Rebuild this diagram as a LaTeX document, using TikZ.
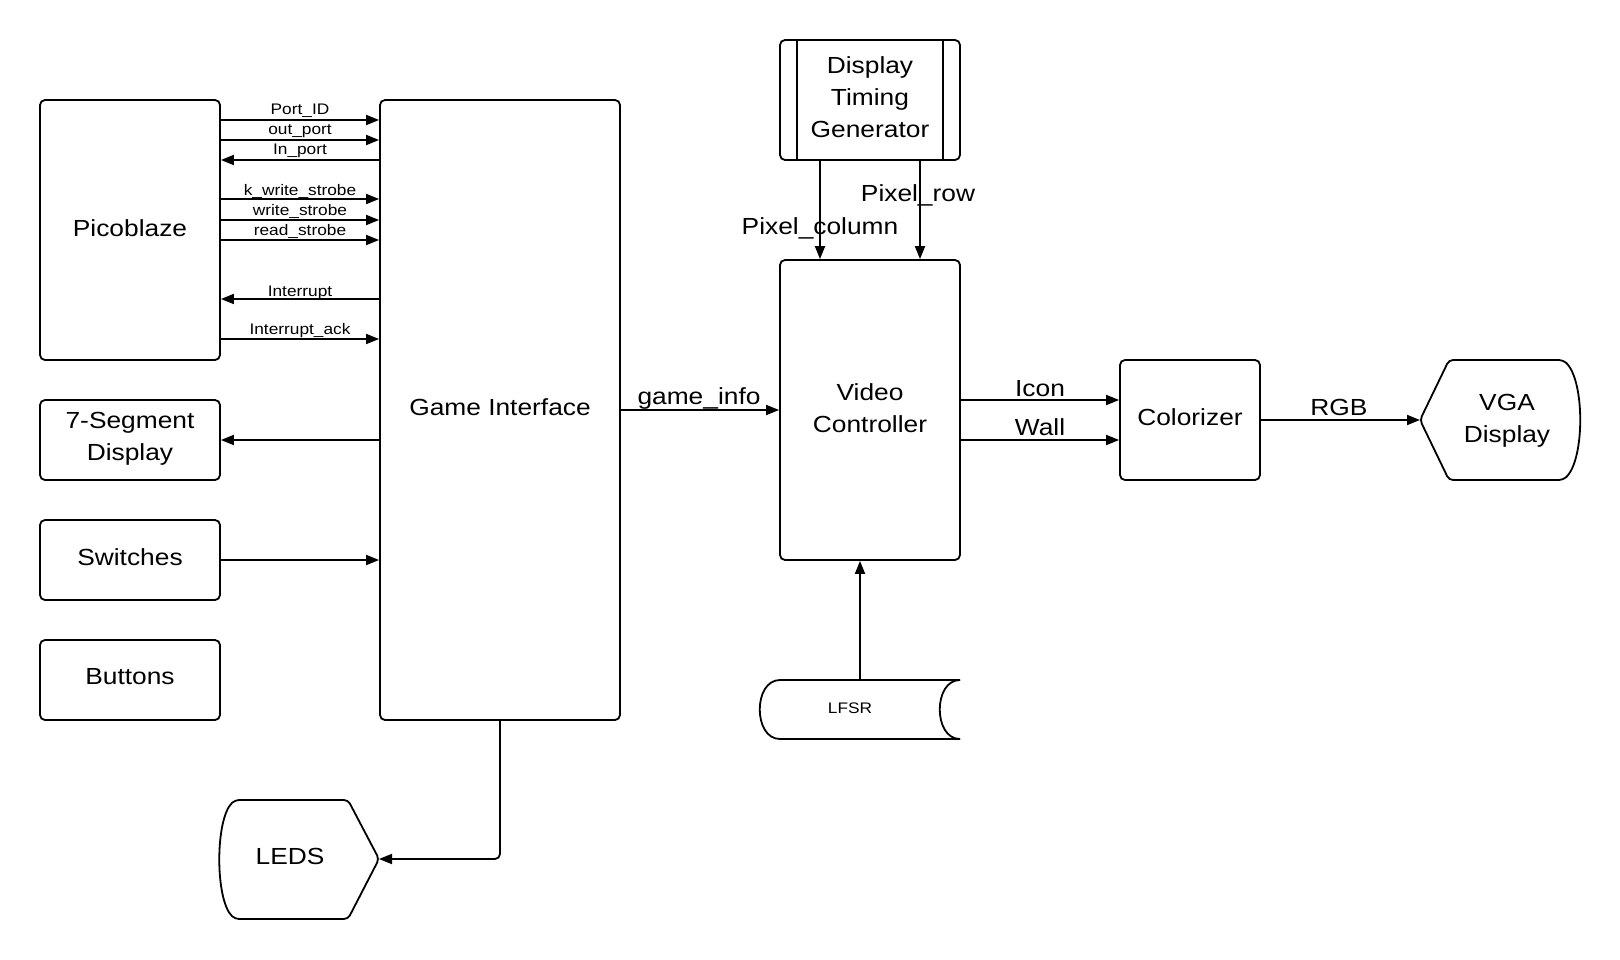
\documentclass[tikz,border=0pt]{standalone}
\usepackage{fontspec}
\setmainfont{Liberation Sans}[FakeStretch=1.13]
\usetikzlibrary{arrows.meta,calc}
\begin{document}
\begin{tikzpicture}[x=1pt,y=-1pt,
  box/.style={draw,line width=1.8pt,rounded corners=5pt,inner sep=0pt},
  txt/.style={align=center,font=\fontsize{23.3}{32}\selectfont,inner sep=0pt},
  sig/.style={line width=1.8pt,-{Triangle[length=13pt,width=10pt]}},
  shp/.style={line width=1.8pt,rounded corners=4pt},
  lbl/.style={font=\fontsize{15.3}{18}\selectfont,anchor=base,inner sep=0pt},
  big/.style={font=\fontsize{23.3}{32}\selectfont,anchor=base,inner sep=0pt,align=center}]
\useasboundingbox (0,0) rectangle (1620,960);

% boxes
\node[box,minimum width=180pt,minimum height=260pt] (pb) at (130,230) {};
\node[txt] (pbT) at ($(pb.center)+(0,-2)$) {Picoblaze};
\node[box,minimum width=240pt,minimum height=620pt] (gi) at (500,410) {};
\node[txt] (giT) at ($(gi.center)+(0,-3)$) {Game Interface};
\node[box,minimum width=180pt,minimum height=80pt] (seg) at (130,440) {};
\node[txt] (segT) at ($(seg.center)+(0,-1)$) {7-Segment\\Display};
\node[box,minimum width=180pt,minimum height=80pt] (sw) at (130,560) {};
\node[txt] (swT) at ($(sw.center)+(0,-3)$) {Switches};
\node[box,minimum width=180pt,minimum height=80pt] (btn) at (130,680) {};
\node[txt] (btnT) at ($(btn.center)+(0,-3)$) {Buttons};
\node[box,minimum width=180pt,minimum height=120pt] (dtg) at (870,100) {};
\node[txt] (dtgT) at ($(dtg.center)+(0,-3)$) {Display\\Timing\\Generator};
\draw[line width=1.8pt] ($(dtg.north west)+(18,0)$) -- ($(dtg.south west)+(18,0)$);
\draw[line width=1.8pt] ($(dtg.north east)+(-18,0)$) -- ($(dtg.south east)+(-18,0)$);
\node[box,minimum width=180pt,minimum height=300pt] (vc) at (870,410) {};
\node[txt] (vcT) at ($(vc.center)+(0,-2)$) {Video\\Controller};
\node[box,minimum width=140pt,minimum height=120pt] (col) at (1190,420) {};
\node[txt] (colT) at ($(col.center)+(0,-3)$) {Colorizer};

% LEDS shape
\draw[shp] (348,800) -- (379,859) -- (348,919) -- (235,919)
  .. controls (215,900) and (215,819) .. (235,800) -- cycle;
\coordinate (ledsP) at (379,859);
\node[txt] (leds) at (290,856) {LEDS};

% VGA shape
\draw[shp] (1449,360) -- (1563,360)
  .. controls (1585,380) and (1585,460) .. (1563,480) -- (1449,480) -- (1420,420) -- cycle;
\coordinate (vgaP) at (1420,420);
\node[txt] (vga) at (1507,421) {VGA\\Display};

% LFSR shape
\draw[line width=1.8pt] (960,680) -- (780,680)
  .. controls (753,680) and (753,739) .. (780,739) -- (960,739);
\draw[line width=1.8pt] (960,680) .. controls (933,680) and (933,739) .. (960,739);
\coordinate (lfsrT) at (860,680);
\node[font=\fontsize{15.3}{18}\selectfont,inner sep=0pt] (lfsr) at (850,708) {LFSR};

% Picoblaze <-> Game Interface signals
\foreach \y/\d/\t in {120/5/Port\_ID, 140/5/out\_port, 199/3/k\_write\_strobe, 220/4/write\_strobe, 240/4/read\_strobe, 339/5/Interrupt\_ack}{
  \draw[sig] (pb.east |- 0,\y) -- (gi.west |- 0,\y);
  \node[lbl] at (300,\y-\d) {\t};
}
\foreach \y/\d/\t in {160/5/In\_port, 299/3/Interrupt}{
  \draw[sig] (gi.west |- 0,\y) -- (pb.east |- 0,\y);
  \node[lbl] at (300,\y-\d) {\t};
}

% other connectors
\draw[sig] (gi.west |- seg.east) -- (seg.east);
\draw[sig] (sw.east) -- (gi.west |- sw.east);
\draw[sig,rounded corners=5pt] (gi.south) |- (ledsP);
\draw[sig] (gi.east) -- (vc.west |- gi.east);
\node[big] at (699,404) {game\_info};
\draw[sig] (dtg.south -| 820,0) -- (vc.north -| 820,0);
\draw[sig] (dtg.south -| 920,0) -- (vc.north -| 920,0);
\node[big] at (820,235) {Pixel\_column};
\node[big] at (918,202) {Pixel\_row};
\draw[sig] (lfsrT) -- (lfsrT |- vc.south);
\draw[sig] (vc.east |- 0,400) -- (col.west |- 0,400);
\draw[sig] (vc.east |- 0,440) -- (col.west |- 0,440);
\node[big] at (1040,396) {Icon};
\node[big] at (1040,435) {Wall};
\draw[sig] (col.east) -- (vgaP);
\node[big] at (1339,415) {RGB};
\end{tikzpicture}
\end{document}
